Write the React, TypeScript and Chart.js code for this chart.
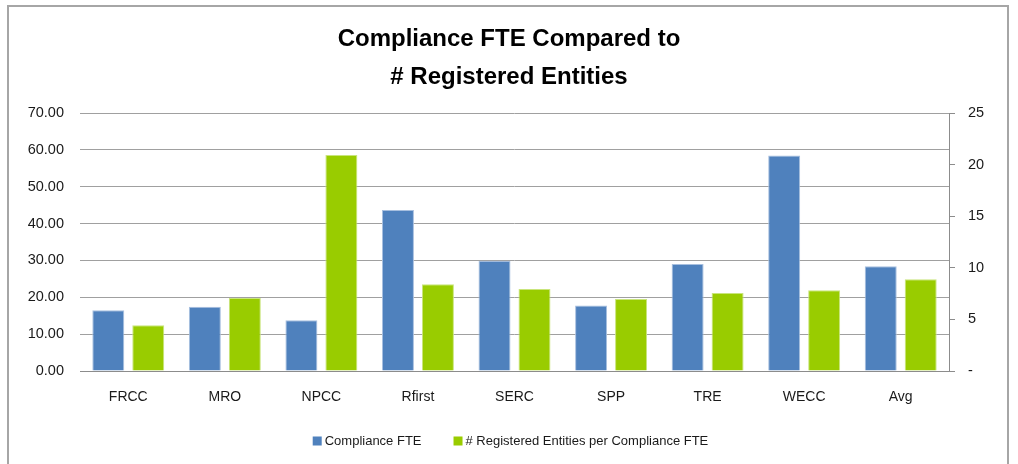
import React, { useEffect, useRef } from "react";
import { Chart, registerables } from "chart.js";

Chart.register(...registerables);

const titleLines = ["Compliance FTE Compared to", "# Registered Entities"];
const categories = ["FRCC", "MRO", "NPCC", "Rfirst", "SERC", "SPP", "TRE", "WECC", "Avg"];
const complianceFte = [16.5, 17.4, 13.8, 43.7, 29.9, 17.8, 29.0, 58.5, 28.4];
const entitiesPerFte = [4.43, 7.07, 20.93, 8.4, 7.95, 6.98, 7.56, 7.82, 8.88];
const seriesNames = ["Compliance FTE", "# Registered Entities per Compliance FTE"];
const seriesColors = ["#4f81bd", "#99cc00"];
const seriesEdges = ["#a7bfdf", "#c9e57c"];
const leftAxisRange = [0, 70, 10];
const rightAxisRange = [0, 25, 5];

const FONT = "'Liberation Sans', Arial, sans-serif";
const TEXT = "#1a1a1a";

const framePlugin = {
  id: "frame",
  beforeDraw(chart: any) {
    const ctx = chart.ctx;
    ctx.save();
    ctx.fillStyle = "#ffffff";
    ctx.fillRect(0, 0, chart.width, chart.height);
    ctx.restore();
  },
  afterDraw(chart: any) {
    const ctx = chart.ctx;
    ctx.save();
    ctx.strokeStyle = "#a6a6a6";
    ctx.lineWidth = 2;
    ctx.beginPath();
    ctx.moveTo(8, chart.height + 2);
    ctx.lineTo(8, 6);
    ctx.lineTo(1008, 6);
    ctx.lineTo(1008, chart.height + 2);
    ctx.stroke();

    // legend
    ctx.font = `13px ${FONT}`;
    ctx.textBaseline = "middle";
    const box = 9;
    const boxGap = 3;
    const itemGap = 32;
    const widths = seriesNames.map((n) => box + boxGap + ctx.measureText(n).width);
    const total = widths.reduce((a, b) => a + b, 0) + itemGap * (seriesNames.length - 1);
    let x = 510.5 - total / 2;
    const cy = 441;
    seriesNames.forEach((n, i) => {
      ctx.fillStyle = seriesColors[i];
      ctx.fillRect(x, cy - box / 2, box, box);
      ctx.fillStyle = TEXT;
      ctx.textAlign = "left";
      ctx.fillText(n, x + box + boxGap, cy);
      x += widths[i] + itemGap;
    });
    ctx.restore();
  },
};

export default function App() {
  const canvasRef = useRef<HTMLCanvasElement | null>(null);

  useEffect(() => {
    const canvas = canvasRef.current;
    if (!canvas) return;
    const chart = new Chart(canvas, {
      type: "bar",
      data: {
        labels: categories,
        datasets: [
          {
            label: seriesNames[0],
            data: complianceFte,
            backgroundColor: seriesColors[0],
            borderColor: seriesEdges[0],
            borderWidth: 1,
            yAxisID: "y",
            categoryPercentage: 0.828,
            barPercentage: 0.8,
          },
          {
            label: seriesNames[1],
            data: entitiesPerFte,
            backgroundColor: seriesColors[1],
            borderColor: seriesEdges[1],
            borderWidth: 1,
            yAxisID: "y1",
            categoryPercentage: 0.828,
            barPercentage: 0.8,
          },
        ],
      },
      options: {
        animation: false,
        responsive: false,
        maintainAspectRatio: false,
        layout: { padding: { top: 0, left: 0, right: 0, bottom: 0 } },
        plugins: {
          legend: { display: false },
          tooltip: { enabled: false },
          title: {
            display: true,
            text: titleLines,
            color: "#000000",
            font: { family: FONT, size: 24, weight: "bold", lineHeight: 38 / 24 },
            padding: { top: 20, bottom: 17 },
          },
        },
        scales: {
          x: {
            grid: { display: false, drawTicks: false },
            border: { display: true, color: "#8c8c8c", width: 1 },
            ticks: { color: TEXT, font: { family: FONT, size: 14 }, padding: 18, maxRotation: 0 },
            afterFit: (s: any) => {
              s.height = 93;
            },
          },
          y: {
            position: "left",
            min: leftAxisRange[0],
            max: leftAxisRange[1],
            grid: { color: "#a0a0a0", lineWidth: 1, drawTicks: false },
            border: { display: false },
            ticks: {
              stepSize: leftAxisRange[2],
              color: TEXT,
              font: { family: FONT, size: 14.5 },
              padding: 16,
              callback: (v: any) => Number(v).toFixed(2),
            },
            afterFit: (s: any) => {
              s.width = 80;
            },
          },
          y1: {
            position: "right",
            min: rightAxisRange[0],
            max: rightAxisRange[1],
            grid: { drawOnChartArea: false, drawTicks: true, tickLength: 6, color: "#8c8c8c" },
            border: { display: true, color: "#8c8c8c", width: 1 },
            ticks: {
              stepSize: rightAxisRange[2],
              color: TEXT,
              font: { family: FONT, size: 14.5 },
              padding: 13,
              callback: (v: any) => (Number(v) === 0 ? "-" : String(v)),
            },
            afterFit: (s: any) => {
              s.width = 69;
            },
          },
        },
      },
      plugins: [framePlugin],
    });
    return () => chart.destroy();
  }, []);

  return (
    <div style={{ position: "absolute", left: 0, top: 0, width: 1018, height: 464, background: "#fff" }}>
      <canvas ref={canvasRef} width={1018} height={464} style={{ display: "block", width: 1018, height: 464 }} />
    </div>
  );
}
